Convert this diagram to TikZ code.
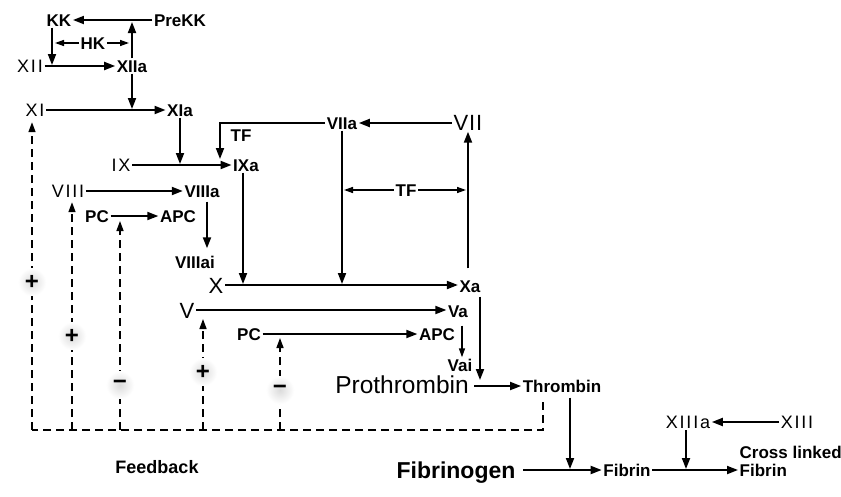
\documentclass[tikz,border=0pt]{standalone}
\usepackage{fontspec}
\setsansfont{Liberation Sans}
\newfontfamily\regfont[LetterSpace=10]{Liberation Sans}
\newfontfamily\bigregfont[LetterSpace=4]{Liberation Sans}
\usetikzlibrary{arrows.meta,calc}
\begin{document}
\begin{tikzpicture}[x=1pt,y=-1pt,
  bl/.style={font=\sffamily\bfseries\fontsize{17}{18}\selectfont, inner sep=1.5pt, text height=12pt, text depth=0pt},
  rg/.style={font=\regfont\fontsize{18}{20}\selectfont, inner sep=1.5pt, text height=13pt, text depth=0pt},
  rgl/.style={font=\bigregfont\fontsize{22}{24}\selectfont, inner sep=1.5pt, text height=16pt, text depth=0pt},
  bigrg/.style={font=\sffamily\fontsize{24.5}{26}\selectfont, inner sep=1.5pt, text height=17.5pt, text depth=0pt},
  bigbl/.style={font=\sffamily\bfseries\fontsize{23}{24}\selectfont, inner sep=1.5pt, text height=16.5pt, text depth=0pt},
  cl/.style={font=\sffamily\bfseries\fontsize{17}{18}\selectfont, inner sep=1.5pt, align=left, anchor=base west},
  arr/.style={line width=1.9pt, -{Triangle[length=11pt,width=8pt]}},
  arrs/.style={line width=1.4pt, -{Triangle[length=9pt,width=6pt]}},
  fb/.style={line width=1.5pt, dash pattern=on 8pt off 5pt},
  dtip/.style={-{Triangle[length=10pt,width=7pt]}},
  halo/.style={circle, minimum size=28pt, inner sep=0pt, inner color=gray!28, outer color=white, shading=radial,
    font=\sffamily\bfseries\fontsize{24}{24}\selectfont}
]
\useasboundingbox (0,0) rectangle (841,496);
\fill[white] (0,0) rectangle (841,496);

% nodes
\node[bl] (KK) at (59,20) {KK};
\node[bl] (PreKK) at (180,20) {PreKK};
\node[bl] (HK) at (93,43) {HK};
\node[rg] (XII) at (30,66) {XII};
\node[bl] (XIIa) at (132,66) {XIIa};
\node[rg] (XI) at (35,110) {XI};
\node[bl] (XIa) at (180,110) {XIa};
\node[bl] (TFa) at (241,135) {TF};
\node[bl] (VIIa) at (342,123) {VIIa};
\node[rgl] (VII) at (468,122) {VII};
\node[rg] (IX) at (121,165) {IX};
\node[bl] (IXa) at (246,165) {IXa};
\node[rg] (VIII) at (68,191) {VIII};
\node[bl] (VIIIa) at (202,191) {VIIIa};
\node[bl] (PCa) at (97,216) {PC};
\node[bl] (APCa) at (178,216) {APC};
\node[bl] (TFb) at (406,190) {TF};
\node[bl] (VIIIai) at (195,262) {VIIIai};
\node[rgl] (X) at (216,285) {X};
\node[bl] (Xa) at (470,286) {Xa};
\node[rgl] (V) at (187,310) {V};
\node[bl] (Va) at (458,311) {Va};
\node[bl] (PCb) at (249,334) {PC};
\node[bl] (APCb) at (437,334) {APC};
\node[bl] (Vai) at (460,365) {Vai};
\node[bigrg] (Pro) at (402,385) {Prothrombin};
\node[bl] (Thr) at (562,386) {Thrombin};
\node[rg] (XIIIa) at (688,422) {XIIIa};
\node[rg] (XIII) at (797,422) {XIII};
\node[bigbl] (Fgn) at (456,470) {Fibrinogen};
\node[bl] (Fib) at (627,470) {Fibrin};
\node[cl] (CL) at (738,476) {Cross linked\\Fibrin};
\node[bl, font=\sffamily\bfseries\fontsize{18}{19}\selectfont] (FB) at (157,467) {Feedback};

% coordinates
\coordinate (kkd) at (52,65);
\coordinate (xiiup) at (132,22);
\coordinate (hkl) at (55,43);
\coordinate (hkr) at (129,43);
\coordinate (xia) at (132,109);
\coordinate (ixl) at (180,164);
\coordinate (tfc) at (220,159);
\coordinate (xl2) at (342,284);
\coordinate (tfl) at (344,190);
\coordinate (tfr) at (466,190);
\coordinate (ixd) at (243,284);
\coordinate (v8) at (207,0);
\coordinate (vx) at (462,0);
\coordinate (xad) at (480,380);
\coordinate (thd) at (570,469);
\coordinate (x13d) at (686,469);

% solid connectors
\draw[arr] (PreKK.west) -- (KK.east);
\draw[arr] (KK.south -| kkd) -- (kkd);
\draw[arr] (XIIa.north) -- (xiiup);
\draw[arrs] (HK.west) -- (hkl);
\draw[arrs] (HK.east) -- (hkr);
\draw[arr] (XII.east) -- (XIIa.west);
\draw[arr] (XIIa.south) -- (xia);
\draw[arr] (XI.east) -- (XIa.west);
\draw[arr] (XIa.south) -- (ixl);
\draw[arr] (IX.east) -- (IXa.west);
\draw[arr] (VIIa.west) -| (tfc);
\draw[arr] (VII.west |- VIIa.east) -- (VIIa.east);
\draw[arr] (VIIa.south) -- (xl2);
\draw[arrs] (TFb.west) -- (tfl);
\draw[arrs] (TFb.east) -- (tfr);
\draw[arr, shorten <=10pt] (Xa.north -| VII.south) -- (VII.south);
\draw[arr] (IXa.south -| ixd) -- (ixd);
\draw[arr] (VIII.east) -- (VIIIa.west);
\draw[arr, shorten <=3pt, shorten >=6pt] (VIIIa.south -| v8) -- (VIIIai.north -| v8);
\draw[arr] (X.east) -- (Xa.west |- X.east);
\draw[arr] (V.east) -- (Va.west |- V.east);
\draw[arr] (PCa.east) -- (APCa.west);
\draw[arr] (PCb.east) -- (APCb.west);
\draw[arrs, shorten <=7pt] (Va.south -| vx) -- (Vai.north -| vx);
\draw[arr, shorten <=3pt] (Xa.south -| xad) -- (xad);
\draw[arr, shorten <=4pt] (Pro.east |- Thr.west) -- (Thr.west);
\draw[arr, shorten <=4pt] (Thr.south -| thd) -- (thd);
\draw[arr, shorten <=6pt] (Fgn.east) -- (Fib.west);
\draw[arr] (Fib.east) -- (Fib.east -| CL.west);
\draw[arr] (XIII.west) -- (XIIIa.east);
\draw[arr] (XIIIa.south -| x13d) -- (x13d);

% feedback dashed lines
\coordinate (fbL) at (32,430);
\coordinate (fbR) at (543,430);
\coordinate (tb) at (543,402);
\coordinate (f2) at (72,430);
\coordinate (f3) at (120,430);
\coordinate (d3) at (120,221);
\coordinate (f4) at (203,430);
\coordinate (d4) at (203,319);
\coordinate (f5) at (280,430);
\coordinate (d5) at (280,338);
\draw[fb] (tb) -- (fbR) -- (fbL);
\draw[fb, dtip, shorten >=4pt] (fbL) -- (fbL |- XI.south);
\draw[fb, dtip, shorten >=3pt] (f2) -- (f2 |- VIII.south);
\draw[fb, dtip] (f3) -- (d3);
\draw[fb, dtip] (f4) -- (d4);
\draw[fb, dtip] (f5) -- (d5);

% signs
\node[halo] (s1) at (32,282) {+};
\node[halo] (s2) at (72,336) {+};
\node[halo] (s3) at (120,385) {−};
\node[halo] (s4) at (203,372) {+};
\node[halo] (s5) at (280,390) {−};
\end{tikzpicture}
\end{document}
